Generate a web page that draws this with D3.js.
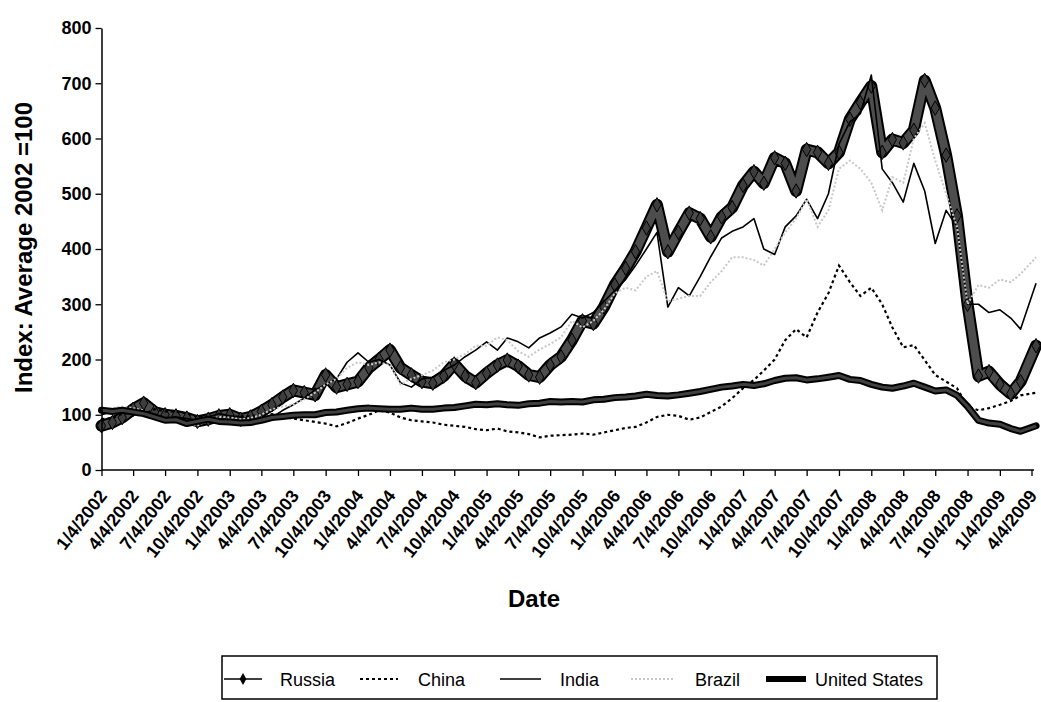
<!DOCTYPE html>
<html><head><meta charset="utf-8">
<script src="https://cdn.jsdelivr.net/npm/d3@7"></script>
<style>
html,body{margin:0;padding:0;background:#fff;}
svg{display:block;font-family:"Liberation Sans",Arial,Helvetica,sans-serif;}
</style></head><body>
<svg id="chart" width="1041" height="702"></svg>
<script>
// ---- DATA (monthly readings, Jan 2002 .. Apr 2009) ----
const startMonth = "2002-01-04";
const lastDate = "2009-04-17";
const russia = [80,86,95,110,121,105,100,98,94,88,92,98,
  100,92,96,106,118,132,144,140,136,172,150,155,
  160,185,200,217,185,172,160,157,170,192,170,158,
  175,190,199,188,172,168,190,205,235,270,265,295,
  335,365,395,438,480,395,430,465,455,422,458,475,
  515,540,519,565,555,505,580,575,555,575,635,665,
  695,575,598,592,615,705,655,570,460,300,170,178,
  155,138,160,225];
const china = [92,94,102,104,100,110,106,106,102,97,93,88,
  96,97,97,100,101,96,93,90,87,84,79,85,
  93,100,108,104,95,90,88,86,82,80,78,74,
  72,75,70,68,65,59,62,63,64,66,64,68,
  72,76,78,86,96,100,98,91,95,105,115,130,
  148,163,180,200,235,255,240,285,320,370,340,315,
  330,300,258,222,226,199,172,160,148,115,108,112,
  118,125,135,140];
const india = [100,106,106,104,98,97,92,96,93,90,96,102,
  98,96,92,90,95,108,118,130,145,155,165,195,
  212,195,200,190,158,150,165,168,180,190,205,217,
  232,217,239,232,221,239,248,259,282,275,285,305,
  325,345,370,400,430,295,330,315,350,386,420,432,
  440,455,400,390,440,460,490,455,500,590,630,645,
  715,545,520,485,555,505,410,470,440,300,300,285,
  290,275,255,338];
const brazil = [110,112,115,112,108,98,90,92,83,80,92,96,
  95,92,94,100,110,115,118,128,140,155,165,185,
  195,190,195,190,155,165,172,180,195,200,210,225,
  225,240,235,215,205,218,228,240,270,258,270,290,
  320,330,325,350,360,305,310,315,315,340,360,385,
  385,380,370,400,430,455,490,440,470,545,560,545,
  520,470,530,520,600,628,560,500,440,300,335,330,
  345,340,355,385];
const unitedStates = [108,106,108,105,102,96,90,91,84,88,92,88,
  87,85,86,90,95,97,99,100,100,104,105,108,
  111,112,111,110,110,112,110,110,112,113,116,119,
  118,120,118,117,120,121,124,123,124,123,127,128,
  131,132,134,137,135,134,136,139,142,146,150,152,
  155,153,156,162,166,167,163,165,168,171,164,162,
  155,150,148,152,157,150,143,145,135,115,90,85,
  83,75,70,80];
const yTicks = [0,100,200,300,400,500,600,700,800];
const xTickLabels = ["1/4/2002","4/4/2002","7/4/2002","10/4/2002","1/4/2003","4/4/2003","7/4/2003","10/4/2003",
  "1/4/2004","4/4/2004","7/4/2004","10/4/2004","1/4/2005","4/4/2005","7/4/2005","10/4/2005",
  "1/4/2006","4/4/2006","7/4/2006","10/4/2006","1/4/2007","4/4/2007","7/4/2007","10/4/2007",
  "1/4/2008","4/4/2008","7/4/2008","10/4/2008","1/4/2009","4/4/2009"];
const seriesNames = ["Russia","China","India","Brazil","United States"];

// ---- SETUP ----
const svg = d3.select("#chart");
svg.append("rect").attr("width",1041).attr("height",702).attr("fill","#fff");
const parseISO = d3.timeParse("%Y-%m-%d");
const parseTick = d3.timeParse("%m/%d/%Y");
const t0 = parseISO(startMonth);
const dates = d3.range(russia.length - 1).map(i => d3.timeMonth.offset(t0, i));
dates.push(parseISO(lastDate));
const tickDates = xTickLabels.map(parseTick);

const x = d3.scaleTime().domain([tickDates[0], tickDates[tickDates.length-1]]).range([101.5, 1031.5]);
const y = d3.scaleLinear().domain([0, 800]).range([470, 28]);

const line = d3.line().x((d,i)=>x(dates[i])).y(d=>y(d)).curve(d3.curveLinear);

const g = svg.append("g");

// Russia: thick band with diamond markers
g.append("path").datum(russia).attr("d", line).attr("fill","none")
  .attr("stroke","#000").attr("stroke-width",12).attr("stroke-linejoin","round").attr("stroke-linecap","round");
g.append("path").datum(russia).attr("d", line).attr("fill","none")
  .attr("stroke","#4d4d4d").attr("stroke-width",8).attr("stroke-linejoin","round").attr("stroke-linecap","round");
const diamond = d3.symbol().type(d3.symbolDiamond).size(60);
g.selectAll("path.rus").data(russia).enter().append("path").attr("class","rus")
  .attr("d", diamond).attr("transform",(d,i)=>`translate(${x(dates[i])},${y(d)})`)
  .attr("fill","#3d3d3d").attr("stroke","#000").attr("stroke-width",1);

// China: dotted black
g.append("path").datum(china).attr("d", line).attr("fill","none")
  .attr("stroke","#000").attr("stroke-width",2.2).attr("stroke-dasharray","3,3");
// India: thin solid black
g.append("path").datum(india).attr("d", line).attr("fill","none")
  .attr("stroke","#000").attr("stroke-width",1.6).attr("stroke-linejoin","round");
// Brazil: light grey dotted
g.append("path").datum(brazil).attr("d", line).attr("fill","none")
  .attr("stroke","#c8c8c8").attr("stroke-width",2).attr("stroke-dasharray","2,2");
// United States: heavy black
g.append("path").datum(unitedStates).attr("d", line).attr("fill","none")
  .attr("stroke","#000").attr("stroke-width",7).attr("stroke-linejoin","round").attr("stroke-linecap","round");
g.append("path").datum(unitedStates).attr("d", line).attr("fill","none")
  .attr("stroke","#404040").attr("stroke-width",3).attr("stroke-linejoin","round");

// ---- AXES ----
const yAxis = svg.append("g").attr("transform","translate(101.5,0)")
  .call(d3.axisLeft(y).tickValues(yTicks).tickSize(6).tickSizeOuter(0).tickPadding(4).tickFormat(d3.format("d")));
yAxis.select(".domain").attr("stroke","#000").attr("stroke-width",1.5);
yAxis.selectAll(".tick line").attr("stroke","#000").attr("stroke-width",1.3);
yAxis.selectAll(".tick text").attr("font-size",18).attr("font-weight","bold").attr("fill","#000")
  .attr("font-family","Liberation Sans, Arial, sans-serif");

const xAxis = svg.append("g").attr("transform","translate(0,470)")
  .call(d3.axisBottom(x).tickValues(tickDates).tickSize(6).tickSizeOuter(0).tickFormat((d,i)=>xTickLabels[i]));
xAxis.select(".domain").attr("stroke","#000").attr("stroke-width",1.5).attr("d","M101.5,0H1034");
xAxis.selectAll(".tick line").attr("stroke","#000").attr("stroke-width",1.3);
xAxis.selectAll(".tick text").attr("font-size",18).attr("font-weight","bold").attr("fill","#000")
  .attr("font-family","Liberation Sans, Arial, sans-serif")
  .attr("x",6).attr("y",26).attr("dy",null).attr("text-anchor","end")
  .attr("transform","rotate(-52,6,26)");

// titles
svg.append("text").attr("x",534).attr("y",607).attr("text-anchor","middle")
  .attr("font-size",24).attr("font-weight","bold").text("Date");
svg.append("text").attr("transform","translate(32,247.5) rotate(-90)").attr("text-anchor","middle")
  .attr("font-size",24).attr("font-weight","bold").text("Index: Average 2002 =100");

// ---- LEGEND ----
const leg = svg.append("g");
leg.append("rect").attr("x",222).attr("y",656).attr("width",715).attr("height",43)
  .attr("fill","#fff").attr("stroke","#000").attr("stroke-width",1.5);
const ly = 679;
const legItems = [
  {name:seriesNames[0], x1:224, x2:262, text:280},
  {name:seriesNames[1], x1:360, x2:398, text:418},
  {name:seriesNames[2], x1:500, x2:541, text:560},
  {name:seriesNames[3], x1:631, x2:673, text:695},
  {name:seriesNames[4], x1:766, x2:806, text:815}
];
leg.append("line").attr("x1",legItems[0].x1).attr("x2",legItems[0].x2).attr("y1",ly).attr("y2",ly).attr("stroke","#000").attr("stroke-width",1.6);
leg.append("path").attr("d", d3.symbol().type(d3.symbolDiamond).size(40)).attr("transform",`translate(${(legItems[0].x1+legItems[0].x2)/2},${ly})`).attr("fill","#000");
leg.append("line").attr("x1",legItems[1].x1).attr("x2",legItems[1].x2).attr("y1",ly).attr("y2",ly).attr("stroke","#000").attr("stroke-width",2.2).attr("stroke-dasharray","3,3");
leg.append("line").attr("x1",legItems[2].x1).attr("x2",legItems[2].x2).attr("y1",ly).attr("y2",ly).attr("stroke","#000").attr("stroke-width",1.6);
leg.append("line").attr("x1",legItems[3].x1).attr("x2",legItems[3].x2).attr("y1",ly).attr("y2",ly).attr("stroke","#c8c8c8").attr("stroke-width",2).attr("stroke-dasharray","2,2");
leg.append("line").attr("x1",legItems[4].x1).attr("x2",legItems[4].x2).attr("y1",ly).attr("y2",ly).attr("stroke","#000").attr("stroke-width",6);
legItems.forEach(it => {
  leg.append("text").attr("x",it.text).attr("y",ly+6.5).attr("font-size",18).attr("fill","#000").text(it.name);
});
</script>
</body></html>
